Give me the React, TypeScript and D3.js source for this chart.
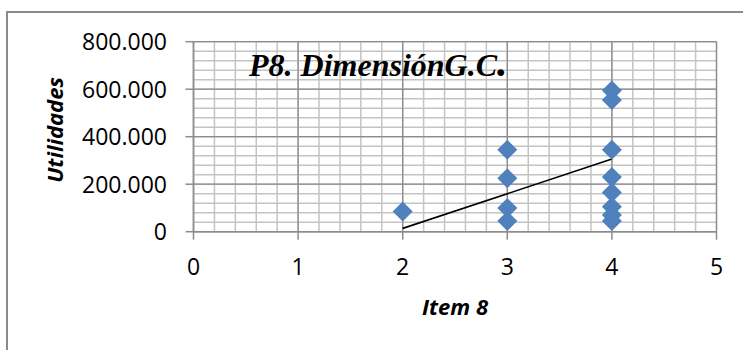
import React from "react";
import * as d3 from "d3";

// Item 8 scores and the matching profit values (Utilidades)
const itemScores = [2, 3, 3, 3, 3, 4, 4, 4, 4, 4, 4, 4, 4];
const utilidades = [85000, 345000, 225000, 100000, 45000, 595000, 555000, 345000, 230000, 165000, 105000, 70000, 45000];

// Linear trend line endpoints
const trendX = [2, 4];
const trendY = [14000, 306000];

const xTicks = [0, 1, 2, 3, 4, 5];
const yTicks = [0, 200000, 400000, 600000, 800000];

const W = 743;
const H = 350;

const esLocale = d3.formatLocale({ decimal: ",", thousands: ".", grouping: [3], currency: ["", " €"] });
const fmt = esLocale.format(",d");

export default function App() {
  const x = d3.scaleLinear().domain([0, 5]).range([193.5, 716.5]);
  const y = d3.scaleLinear().domain([0, 800000]).range([231.7, 41.7]);

  const minorX = d3.range(0, 5.0001, 0.2);
  const minorY = d3.range(0, 800001, 40000);

  const diamond = d3.symbol().type(d3.symbolSquare).size(200)() as string;
  const trend = d3.line<number>().x((d) => x(d)).y((_, i) => y(trendY[i]));

  const tickFont = "'Open Sans', 'DejaVu Sans', sans-serif";
  const [x0, x1] = x.range();
  const [y0, y1] = y.range();

  return (
    <svg width={W} height={H} style={{ position: "absolute", left: 0, top: 0, display: "block" }}>
      <rect x={0} y={0} width={W} height={H} fill="#fff" />
      {/* chart area border */}
      <rect x={7} y={12} width={W + 10} height={H + 10} fill="none" stroke="#8a8a8a" strokeWidth={2} />

      {/* minor gridlines */}
      <g stroke="#c4c4c4" strokeWidth={1.5}>
        {minorX.map((v, i) => (
          <line key={"mx" + i} x1={x(v)} x2={x(v)} y1={y1} y2={y0} />
        ))}
        {minorY.map((v, i) => (
          <line key={"my" + i} x1={x0} x2={x1} y1={y(v)} y2={y(v)} />
        ))}
      </g>
      {/* major gridlines */}
      <g stroke="#8c8c8c" strokeWidth={1.3}>
        {xTicks.map((v) => (
          <line key={"gx" + v} x1={x(v)} x2={x(v)} y1={y1} y2={y0} />
        ))}
        {yTicks.map((v) => (
          <line key={"gy" + v} x1={x0} x2={x1} y1={y(v)} y2={y(v)} />
        ))}
      </g>

      {/* axes with tick marks */}
      <g stroke="#8c8c8c" strokeWidth={1.5}>
        <line x1={x0} x2={x0} y1={y1} y2={y0} />
        <line x1={x0} x2={x1} y1={y0} y2={y0} />
        {yTicks.map((v) => (
          <line key={"ty" + v} x1={x0 - 8} x2={x0} y1={y(v)} y2={y(v)} />
        ))}
        {xTicks.map((v) => (
          <line key={"tx" + v} x1={x(v)} x2={x(v)} y1={y0} y2={y0 + 8} />
        ))}
      </g>

      {/* tick labels */}
      <g fontFamily={tickFont} fontSize={23} fill="#000">
        {yTicks.map((v) => (
          <text key={"ly" + v} x={167} y={y(v) + 8.3} textAnchor="end">
            {fmt(v)}
          </text>
        ))}
        {xTicks.map((v) => (
          <text key={"lx" + v} x={x(v)} y={275} textAnchor="middle">
            {v}
          </text>
        ))}
      </g>

      {/* axis titles */}
      <text
        transform="translate(63,130) rotate(-90)"
        textAnchor="middle"
        fontFamily={tickFont}
        fontWeight="bold"
        fontStyle="italic"
        fontSize={22}
        fill="#000"
      >
        Utilidades
      </text>
      <text x={455} y={315} textAnchor="middle" fontFamily={tickFont} fontWeight="bold" fontStyle="italic" fontSize={22} fill="#000">
        Item 8
      </text>

      {/* trend line */}
      <path d={trend(trendX) || ""} fill="none" stroke="#000" strokeWidth={1.6} />

      {/* data points */}
      <g fill="#4f81bd">
        {itemScores.map((s, i) => (
          <path key={"p" + i} d={diamond} transform={`translate(${x(s)},${y(utilidades[i])}) rotate(45)`} />
        ))}
      </g>

      {/* chart title */}
      <text
        x={249}
        y={76}
        fontFamily="'Liberation Serif', 'Times New Roman', serif"
        fontWeight="bold"
        fontStyle="italic"
        fontSize={32}
        fill="#000"
      >
        P8. DimensiónG.C<tspan fontSize={42}>.</tspan>
      </text>
    </svg>
  );
}
